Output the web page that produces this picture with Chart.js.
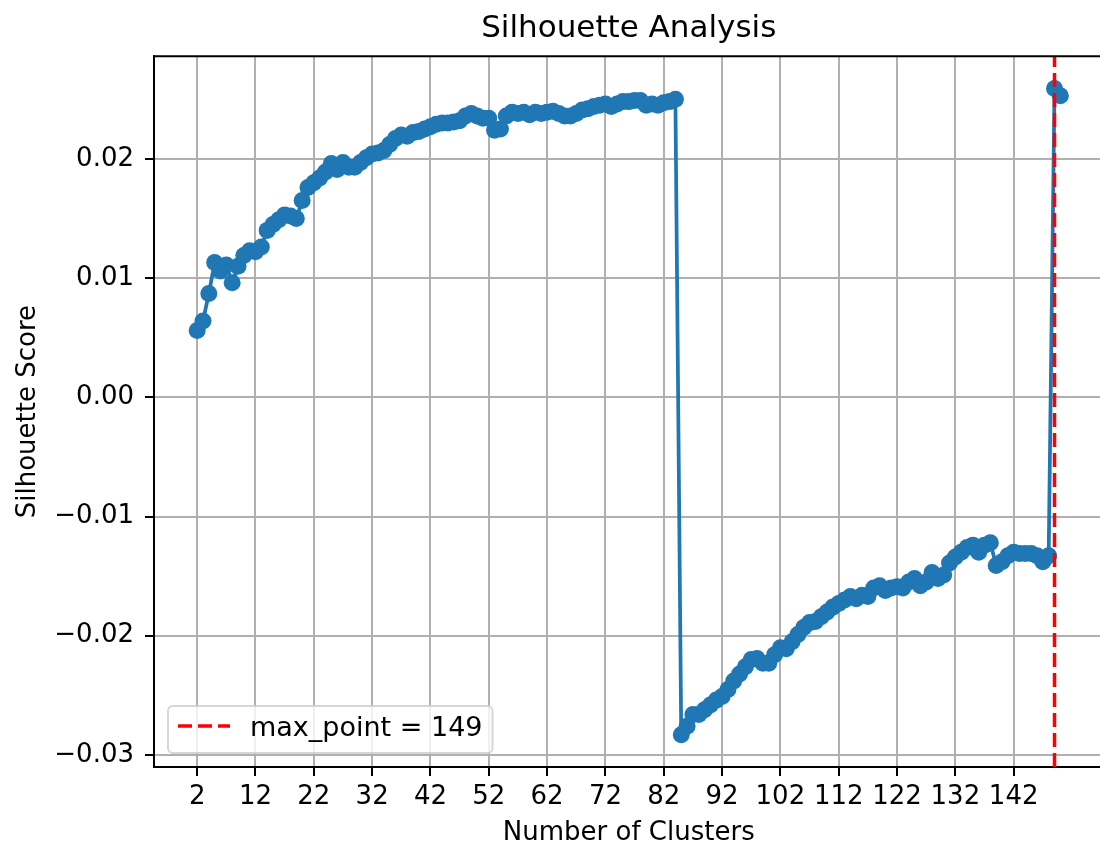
<!DOCTYPE html>
<html>
<head>
<meta charset="utf-8">
<script src="https://cdn.jsdelivr.net/npm/chart.js"></script>
<style>
  html, body { margin: 0; padding: 0; background: #fff; overflow: hidden; }
  #wrap { width: 1112px; height: 846px; }
</style>
</head>
<body>
<div id="wrap"><canvas id="silhouetteChart"></canvas></div>
<script>
// silhouette score for k = 2 .. 150
const scores = [
  0.0056, 0.0064, 0.0087, 0.0113, 0.0106, 0.0111, 0.0096, 0.0110, 0.0119, 0.0123,
  0.0122, 0.0126, 0.0140, 0.0145, 0.0149, 0.0153, 0.0152, 0.0150, 0.0165, 0.0176,
  0.0180, 0.0184, 0.0189, 0.0196, 0.0191, 0.0197, 0.0193, 0.0193, 0.0197, 0.0201,
  0.0204, 0.0205, 0.0207, 0.0212, 0.0217, 0.0220, 0.0219, 0.0222, 0.0223, 0.0225,
  0.0227, 0.0229, 0.0230, 0.0230, 0.0231, 0.0232, 0.0236, 0.0238, 0.0236, 0.0234,
  0.0234, 0.0224, 0.0225, 0.0236, 0.0239, 0.0238, 0.0239, 0.0237, 0.0239, 0.0238,
  0.0239, 0.0240, 0.0238, 0.0236, 0.0236, 0.0238, 0.0241, 0.0242, 0.0244, 0.0245,
  0.0246, 0.0244, 0.0246, 0.0248, 0.0248, 0.0249, 0.0249, 0.0245, 0.0246, 0.0245,
  0.0247, 0.0248, 0.0250,
  -0.0283, -0.0276, -0.0266, -0.0266, -0.0262, -0.0258, -0.0254, -0.0251, -0.0245, -0.0238,
  -0.0232, -0.0226, -0.0220, -0.0219, -0.0223, -0.0223, -0.0216, -0.0210, -0.0211, -0.0205,
  -0.0199, -0.0193, -0.0189, -0.0188, -0.0184, -0.0180, -0.0176, -0.0173, -0.0170, -0.0167,
  -0.0169, -0.0166, -0.0167, -0.0160, -0.0158, -0.0162, -0.0160, -0.0159, -0.0160, -0.0155,
  -0.0152, -0.0158, -0.0155, -0.0147, -0.0152, -0.0149, -0.0139, -0.0134, -0.0130, -0.0126,
  -0.0124, -0.0130, -0.0124, -0.0122, -0.0141, -0.0138, -0.0133, -0.0130, -0.0131, -0.0131,
  -0.0131, -0.0133, -0.0138, -0.0133,
  0.0259, 0.0253
];
const clusters = scores.map((s, i) => i + 2);

const xTicks = [2, 12, 22, 32, 42, 52, 62, 72, 82, 92, 102, 112, 122, 132, 142];
const yTicks = [-0.03, -0.02, -0.01, 0.00, 0.01, 0.02];

const maxIdx = scores.indexOf(Math.max(...scores));
const maxPoint = clusters[maxIdx];

// matplotlib-like 5% margins
const xMargin = (clusters[clusters.length - 1] - clusters[0]) * 0.05;
const yLo = Math.min(...scores), yHi = Math.max(...scores);
const yMargin = (yHi - yLo) * 0.05;

const FONT = 'DejaVu Sans';
Chart.defaults.color = '#000';
Chart.defaults.font.family = FONT;

// vertical dashed line at max_point
const maxLine = {
  id: 'maxLine',
  afterDatasetsDraw(chart) {
    const { ctx, chartArea, scales } = chart;
    const x = scales.x.getPixelForValue(maxPoint);
    ctx.save();
    ctx.strokeStyle = 'red';
    ctx.lineWidth = 3.5;
    ctx.setLineDash([14, 6]);
    ctx.beginPath();
    ctx.moveTo(x, chartArea.bottom);
    ctx.lineTo(x, chartArea.top);
    ctx.stroke();
    ctx.restore();
  }
};

// top spine + legend box in lower left
const frameAndLegend = {
  id: 'frameAndLegend',
  afterDraw(chart) {
    const { ctx, chartArea } = chart;
    ctx.save();
    ctx.strokeStyle = '#000';
    ctx.lineWidth = 2;
    ctx.beginPath();
    ctx.moveTo(chartArea.left, chartArea.top);
    ctx.lineTo(chartArea.right, chartArea.top);
    ctx.stroke();

    const label = 'max_point = ' + maxPoint;
    ctx.font = '27px "' + FONT + '"';
    const tw = ctx.measureText(label).width;
    const pad = 10, handle = 52, gap = 20, h = 47;
    const w = pad + handle + gap + tw + pad;
    const x0 = chartArea.left + 14, y0 = chartArea.bottom - 14 - h;
    ctx.beginPath();
    ctx.roundRect(x0, y0, w, h, 5);
    ctx.fillStyle = 'rgba(255,255,255,0.8)';
    ctx.fill();
    ctx.strokeStyle = 'rgba(204,204,204,0.8)';
    ctx.lineWidth = 2;
    ctx.stroke();

    const cy = y0 + h / 2 - 3.5;
    ctx.strokeStyle = 'red';
    ctx.lineWidth = 3.5;
    ctx.setLineDash([14, 6]);
    ctx.beginPath();
    ctx.moveTo(x0 + pad, cy);
    ctx.lineTo(x0 + pad + handle, cy);
    ctx.stroke();
    ctx.setLineDash([]);
    ctx.fillStyle = '#000';
    ctx.textBaseline = 'alphabetic';
    ctx.fillText(label, x0 + pad + handle + gap, cy + 10);
    ctx.restore();
  }
};

const ctx = document.getElementById('silhouetteChart').getContext('2d');
const chart = new Chart(ctx, {
  type: 'line',
  data: {
    datasets: [{
      label: 'silhouette',
      data: clusters.map((k, i) => ({ x: k, y: scores[i] })),
      borderColor: '#1f77b4',
      backgroundColor: '#1f77b4',
      borderWidth: 3.75,
      pointRadius: 8.5,
      pointBorderWidth: 0,
      pointBackgroundColor: '#1f77b4',
      tension: 0,
      fill: false
    }]
  },
  options: {
    responsive: true,
    maintainAspectRatio: false,
    animation: false,
    layout: { padding: { left: 0, right: 3, top: 0, bottom: 0 } },
    plugins: {
      legend: { display: false },
      tooltip: { enabled: false },
      title: {
        display: true,
        text: 'Silhouette Analysis',
        fullSize: false,
        color: '#000',
        font: { family: FONT, size: 31, weight: 'normal', lineHeight: 1.2 },
        padding: { top: 10, bottom: 9 }
      }
    },
    scales: {
      x: {
        type: 'linear',
        min: clusters[0] - xMargin,
        max: clusters[clusters.length - 1] + xMargin,
        afterBuildTicks: s => { s.ticks = xTicks.map(v => ({ value: v })); },
        afterFit: s => { s.height = 79; },
        grid: { color: '#b0b0b0', lineWidth: 2, tickColor: '#000', tickLength: 9, tickWidth: 2 },
        border: { color: '#000', width: 2 },
        ticks: {
          color: '#000', padding: 6, maxRotation: 0, autoSkip: false,
          font: { family: FONT, size: 26 },
          callback: v => String(v)
        },
        title: {
          display: true, text: 'Number of Clusters', color: '#000',
          font: { family: FONT, size: 26, lineHeight: 1 },
          padding: { top: 0, bottom: 0 }
        }
      },
      y: {
        min: yLo - yMargin,
        max: yHi + yMargin,
        afterBuildTicks: s => { s.ticks = yTicks.map(v => ({ value: v })); },
        afterFit: s => { s.width = 154; },
        grid: { color: '#b0b0b0', lineWidth: 2, tickColor: '#000', tickLength: 9, tickWidth: 2 },
        border: { color: '#000', width: 2 },
        ticks: {
          color: '#000', padding: 11,
          font: { family: FONT, size: 26 },
          callback: v => v.toFixed(2).replace('-', '\u2212')
        },
        title: {
          display: true, text: 'Silhouette Score', color: '#000',
          font: { family: FONT, size: 26, lineHeight: 1.2 },
          padding: { top: 13, bottom: 0 }
        }
      }
    }
  },
  plugins: [maxLine, frameAndLegend]
});
</script>
</body>
</html>
